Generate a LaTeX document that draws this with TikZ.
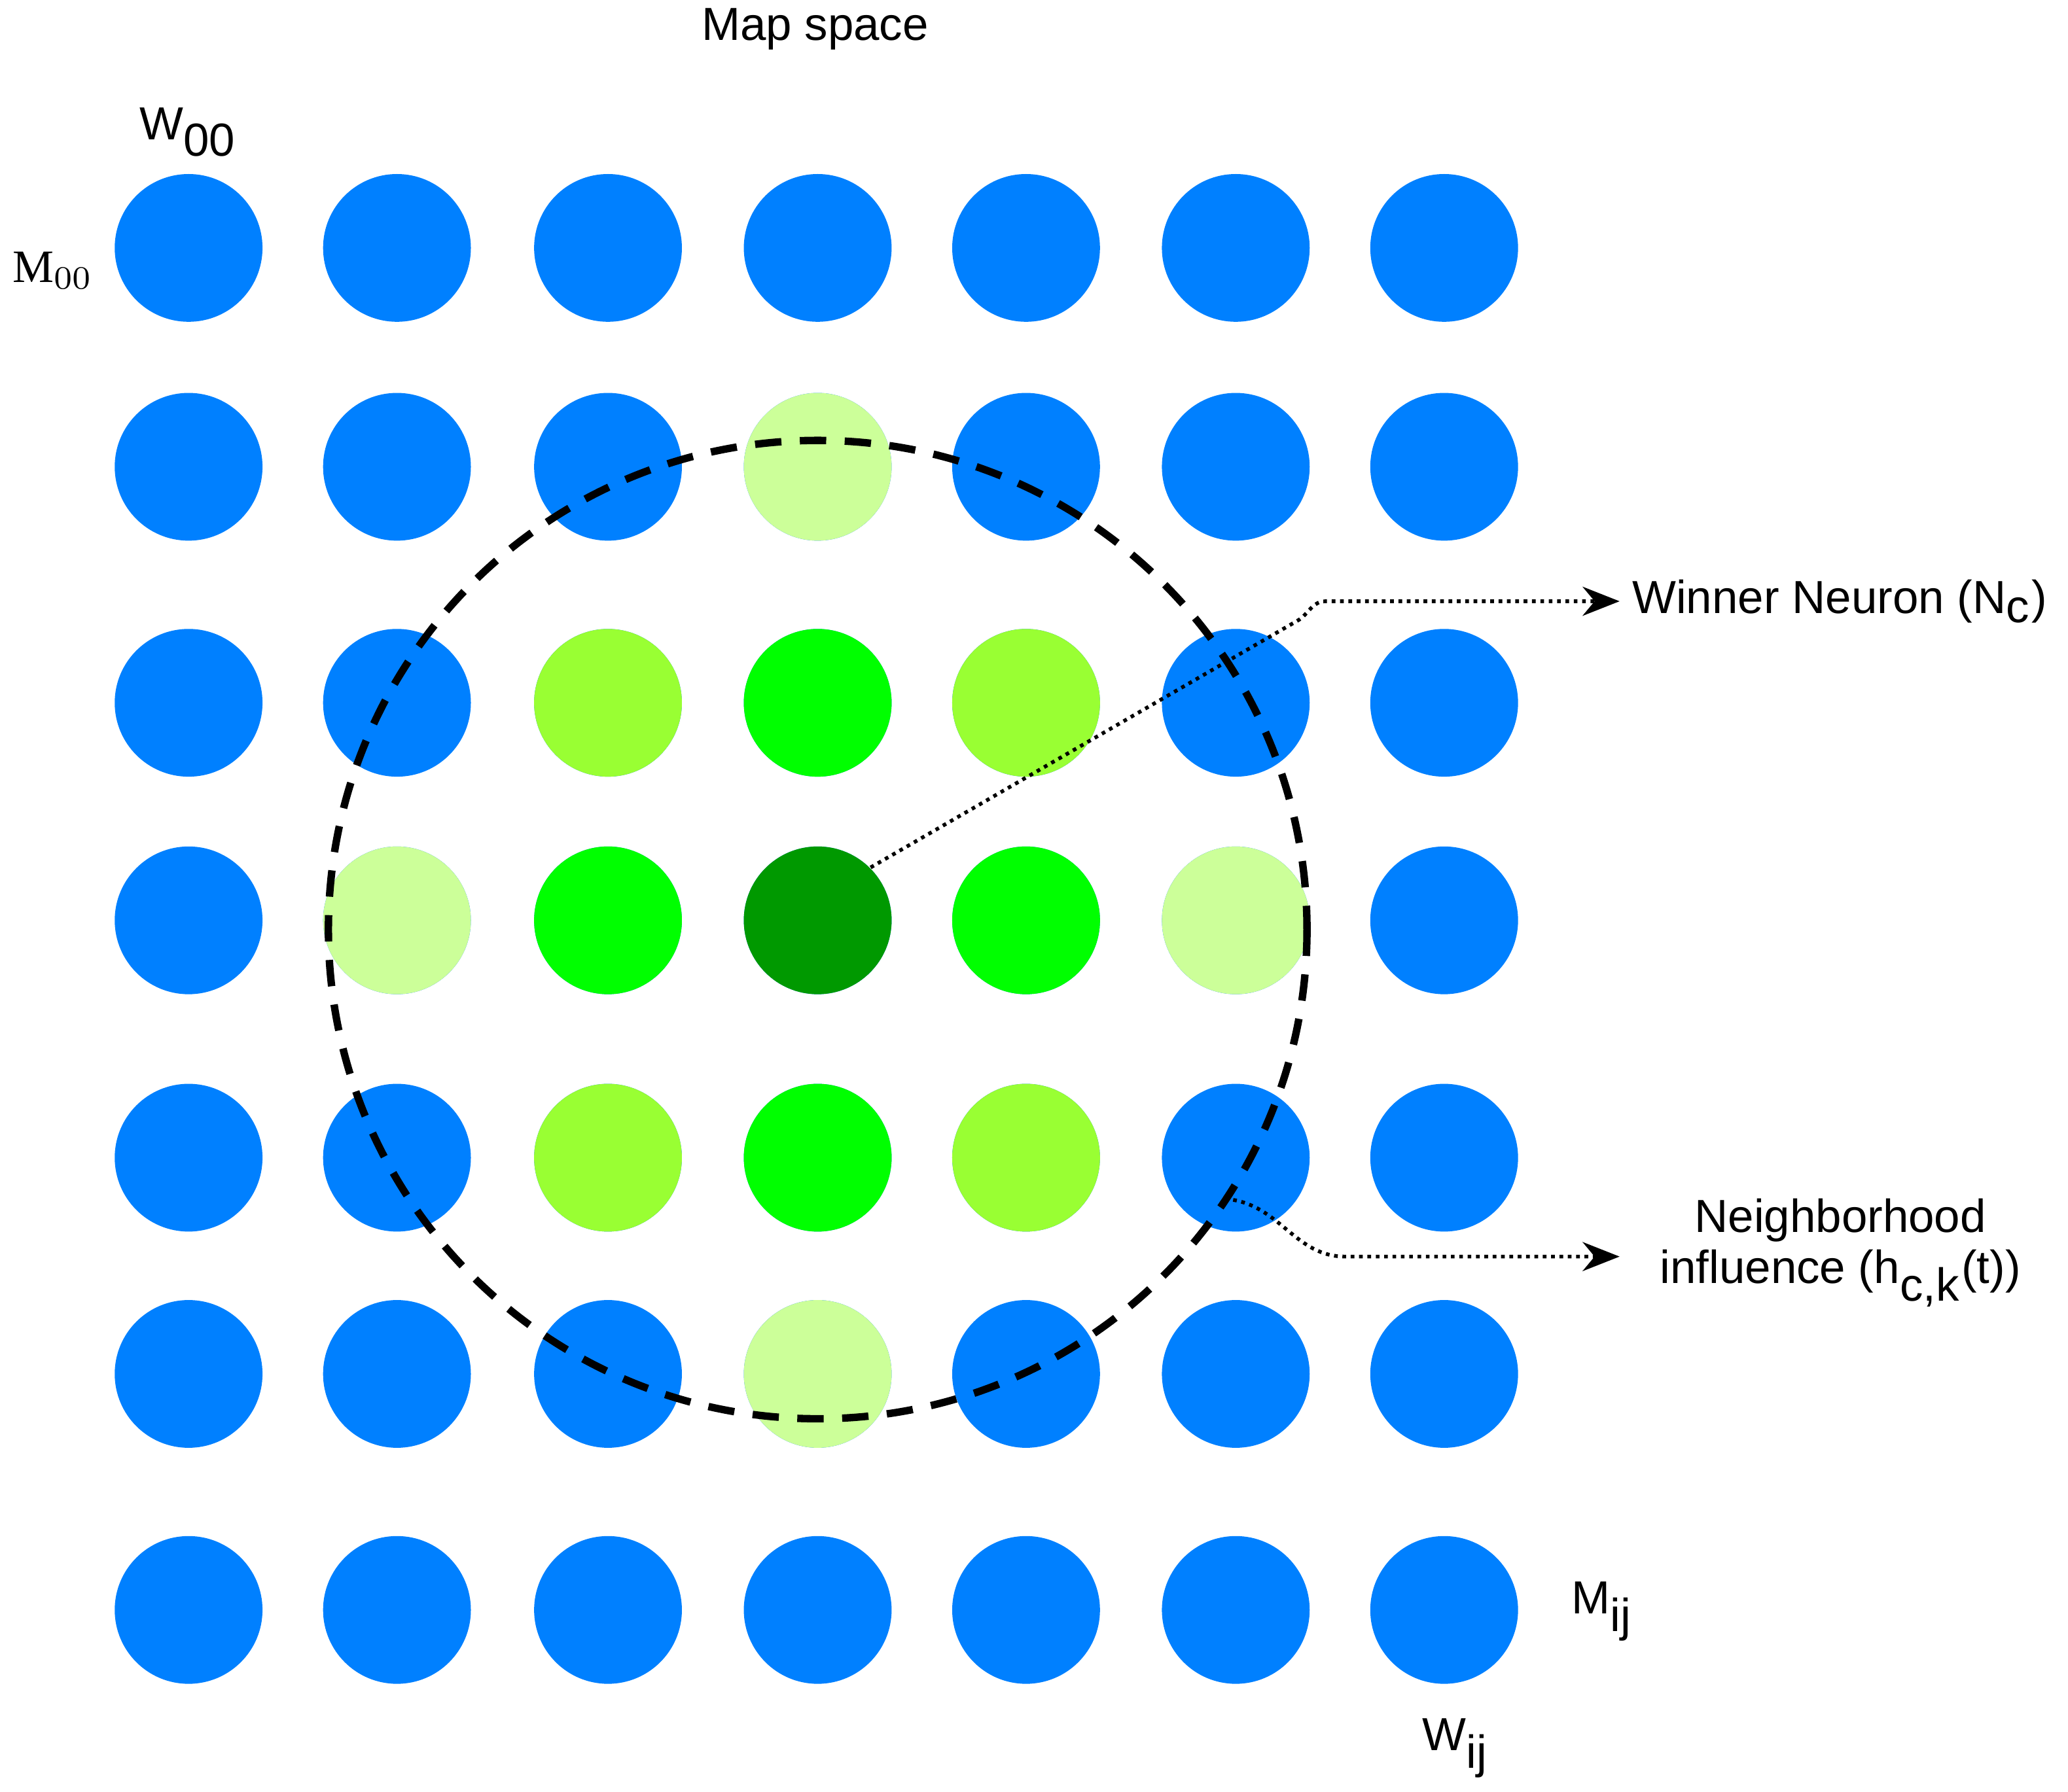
\documentclass[tikz,border=0pt]{standalone}
\usepackage{fontspec}
\setmainfont{Liberation Serif}
\setsansfont{Liberation Sans}
\usetikzlibrary{arrows.meta, positioning}
\definecolor{MapBlue}{HTML}{0080FF}
\definecolor{MapPale}{HTML}{CCFF99}
\definecolor{MapLime}{HTML}{99FF33}
\definecolor{MapGreen}{HTML}{00FF00}
\definecolor{MapDark}{HTML}{009900}
\begin{document}
\begin{tikzpicture}[x = .01cm, y = -.01cm]%
    %
    \tikzstyle{neuron} = [circle, minimum size = 1.12cm, inner sep = 0em, draw = none, fill = MapBlue]%
    \tikzstyle{label} = [font = \sffamily\fontsize{10}{12}\selectfont, inner sep = 0em]%
    \tikzstyle{pointer} = [-{Stealth[length = .28cm, width = .22cm]}, densely dotted, thick, draw = black]%
    \tikzstyle{radius} = [dash pattern = on .2cm off .14cm, ultra thick, draw = black]%
    %
    \useasboundingbox (0, 0) rectangle (1568, 1359);%
    %
    % grid of neurons
    \foreach \r/\y in {0/188, 1/354, 2/533, 3/698, 4/878, 5/1042, 6/1221}{%
        \foreach \c/\x in {0/143, 1/301, 2/461, 3/620, 4/778, 5/937, 6/1095}{%
            \node [neuron] (n-\r-\c) at (\x, \y) {};%
        }%
    }%
    %
    % neighbourhood colours
    \foreach \r/\c/\col in {1/3/MapPale, 2/2/MapLime, 2/3/MapGreen, 2/4/MapLime,
        3/1/MapPale, 3/2/MapGreen, 3/3/MapDark, 3/4/MapGreen, 3/5/MapPale,
        4/2/MapLime, 4/3/MapGreen, 4/4/MapLime, 5/3/MapPale}{%
        \node [neuron, fill = \col] at (n-\r-\c) {};%
    }%
    %
    \draw [radius] (620, 705) circle (371);%
    %
    \node [label] (title) at (618, 22) {Map space};%
    \node [label] (w00) at (143, 100) {W$_{\textsf{00}}$};%
    \node [font = \fontsize{10}{12}\selectfont, inner sep = 0em] (m00) at (40, 205) {M$_{00}$};%
    \node [label] (mij) at (1215, 1222) {M$_{\textsf{ij}}$};%
    \node [label] (wij) at (1104, 1326) {W$_{\textsf{ij}}$};%
    %
    \node [label, anchor = west] (winner) at (1237, 456) {Winner Neuron (N$_{\textsf{c}}$)};%
    \node [label, anchor = west, align = center] (hood) at (1258, 950) {Neighborhood\\[-1pt] influence (h$_{\textsf{c,k}}$(t))};%
    %
    \coordinate (bendA) at (1005, 456);%
    \coordinate (bendB) at (1020, 953);%
    \coordinate (edge) at (935, 910);%
    %
    \draw [pointer] (n-3-3.north east) -- (985, 470) to [out = 35, in = 180] (bendA) -- (1228, 456);%
    \draw [pointer] (edge) to [out = -10, in = 180] (bendB) -- (1228, 953);%
    %
\end{tikzpicture}
\end{document}
